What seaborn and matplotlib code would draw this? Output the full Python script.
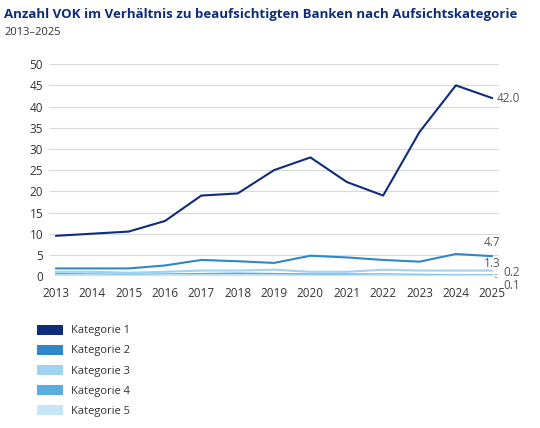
import matplotlib
matplotlib.use("Agg")
import matplotlib.pyplot as plt
import seaborn as sns
import pandas as pd
from matplotlib.patches import Patch

years = list(range(2013, 2026))
k1 = [9.5, 10.0, 10.5, 13.0, 19.0, 19.5, 25.0, 28.0, 22.2, 19.0, 34.0, 45.0, 42.0]
k2 = [1.8, 1.8, 1.8, 2.5, 3.8, 3.5, 3.1, 4.8, 4.4, 3.8, 3.4, 5.2, 4.7]
k3 = [1.0, 1.0, 0.8, 1.0, 1.3, 1.3, 1.5, 1.0, 1.0, 1.5, 1.3, 1.3, 1.3]
k4 = [0.5, 0.4, 0.3, 0.4, 0.5, 0.6, 0.5, 0.4, 0.4, 0.4, 0.3, 0.2, 0.2]
k5 = [0.2, 0.2, 0.1, 0.2, 0.2, 0.2, 0.2, 0.1, 0.1, 0.2, 0.1, 0.1, 0.1]
names = ["Kategorie 1", "Kategorie 2", "Kategorie 3", "Kategorie 4", "Kategorie 5"]
colors = ["#0d2d7c", "#2f86c8", "#9fd3f1", "#5aaedf", "#c4e6f8"]
series = [k1, k2, k3, k4, k5]

df = pd.DataFrame([(y, n, v) for n, s in zip(names, series) for y, v in zip(years, s)],
                  columns=["Jahr", "Kategorie", "Wert"])

sns.set_style("white")
plt.rcParams['font.family'] = ['Open Sans', 'DejaVu Sans']
fig = plt.figure(figsize=(5.4, 4.28), dpi=100)
ax = fig.add_axes([0.09, 0.355, 0.835, 0.495])
sns.lineplot(data=df, x="Jahr", y="Wert", hue="Kategorie", palette=colors,
             hue_order=names, linewidth=1.5, ax=ax, legend=False)
ax.set_xlim(2012.8, 2025.2)
ax.set_ylim(0, 50)
ax.set_yticks(range(0, 51, 5))
ax.set_xticks(years)
ax.grid(axis="y", color="#d9d9d9", linewidth=0.8)
for s in ax.spines.values():
    s.set_visible(False)
ax.tick_params(axis="both", labelsize=8.5, colors="#333333", length=0)
ax.tick_params(axis="x", pad=8)
ax.tick_params(axis="y", pad=4)
ax.set_xlabel(""); ax.set_ylabel("")

kw = dict(textcoords="offset points", va="center", fontsize=8.5, color="#555555")
ax.annotate("42.0", (years[-1], k1[-1]), xytext=(3, 0), **kw)
ax.annotate("4.7", (years[-1], k2[-1]), xytext=(-6, 10), **kw)
ax.annotate("1.3", (years[-1], k3[-1]), xytext=(-6, 5), **kw)
ax.annotate("0.2", (years[-1], k4[-1]), xytext=(8, 2), arrowprops=dict(arrowstyle="-", color="#999999", lw=0.6), **kw)
ax.annotate("0.1", (years[-1], k5[-1]), xytext=(8, -7), arrowprops=dict(arrowstyle="-", color="#999999", lw=0.6), **kw)

fig.text(0.008, 0.965, "Anzahl VOK im Verhältnis zu beaufsichtigten Banken nach Aufsichtskategorie",
         fontsize=9.5, fontweight="bold", color="#0d2d7c", va="center")
fig.text(0.008, 0.925, "2013–2025", fontsize=8, color="#333333", va="center")

handles = [Patch(facecolor=c, edgecolor="none") for c in colors]
fig.legend(handles, names, loc="upper left", bbox_to_anchor=(0.05, 0.265), frameon=False,
           fontsize=8, handlelength=2.3, handleheight=1.0, labelspacing=0.75,
           labelcolor="#333333")
fig.savefig("out.png", dpi=100)
